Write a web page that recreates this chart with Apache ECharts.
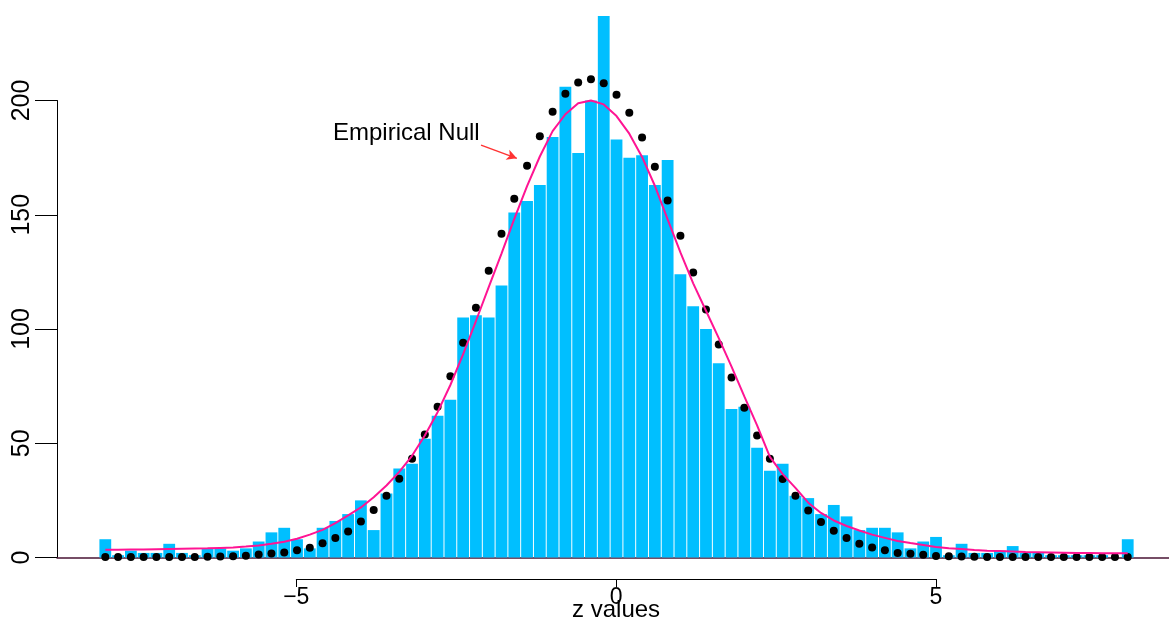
<!DOCTYPE html>
<html>
<head>
<meta charset="utf-8">
<title>z values histogram</title>
<script src="https://cdn.jsdelivr.net/npm/echarts@6/dist/echarts.min.js"></script>
<style>
  html, body { margin: 0; padding: 0; background: #fff; }
  #main { width: 1169px; height: 625px; }
</style>
</head>
<body>
<div id="main"></div>
<script>
// bin centres, -8.0 .. 8.0 by 0.2
var zCenters = [];
for (var k = -40; k <= 40; k++) {
    zCenters.push(Math.round(k * 2) / 10);
}

// histogram counts
var counts = [
    8, 1, 3, 2, 2, 6, 2, 1, 4, 4,
    3, 4, 7, 11, 13, 8, 4, 13, 16, 19,
    25, 12, 28, 39, 41, 52, 62, 69, 105, 106,
    105, 119, 151, 156, 163, 184, 206, 177, 200, 237,
    183, 175, 176, 163, 174, 124, 110, 100, 85, 65,
    66, 48, 38, 41, 27, 26, 19, 23, 18, 12,
    13, 13, 11, 4, 7, 9, 1, 6, 2, 2,
    3, 5, 2, 2, 1, 1, 1, 1, 1, 0,
    8
];

// black dots
var dots = [
    0.2, 0.2, 0.2, 0.2, 0.2, 0.2, 0.2, 0.2, 0.3, 0.4,
    0.5, 0.8, 1.3, 1.7, 2.2, 3.2, 4.3, 6.2, 8.5, 11.4,
    15.8, 20.8, 27, 34.5, 43.2, 53.8, 66, 79.3, 94, 109.3,
    125.5, 141.7, 157, 171.5, 184.4, 195.1, 203, 207.9, 209.3, 207.6,
    202.5, 194.6, 183.8, 171, 156.3, 140.8, 124.7, 108.5, 93.2, 78.8,
    65.5, 53.4, 43.2, 34.4, 27, 20.6, 15.5, 11.7, 8.5, 6,
    4.4, 3.2, 2, 1.6, 1.2, 0.7, 0.5, 0.4, 0.3, 0.2,
    0.2, 0.2, 0.2, 0.2, 0.2, 0.2, 0.2, 0.2, 0.2, 0.2,
    0.2
];

// pink curve (empirical null)
var nullCurve = [
    3.4, 3.4, 3.5, 3.5, 3.6, 3.7, 3.8, 3.9, 4.0, 4.2,
    4.4, 4.8, 5.3, 6.0, 6.9, 8.2, 10, 12.1, 15, 18.4,
    21.9, 26.4, 31.5, 37.5, 44.5, 53.4, 63.6, 75.5, 89, 103.5,
    118.3, 133, 148.2, 162.5, 175.5, 186.6, 194, 198.8, 200, 198.3,
    193.2, 185.5, 175.3, 162.7, 148, 133.5, 120, 108, 96, 83.5,
    70.5, 57.8, 44, 36.5, 30.5, 24, 19.5, 16.2, 13.8, 11.8,
    10, 8.6, 7.2, 6.3, 5.5, 4.6, 4.1, 3.7, 3.3, 3.0,
    2.8, 2.6, 2.4, 2.3, 2.2, 2.1, 2.0, 2.0, 1.9, 1.9,
    1.9
];

var yTicks = [0, 50, 100, 150, 200];
var xTicks = [-5, 0, 5];

function pairs(vals){
    var out = [];
    for (var i = 0; i < vals.length; i++) {
        out.push([zCenters[i], vals[i]]);
    }
    return out;
}

var font = '"Liberation Sans", Arial, Helvetica, sans-serif';
var chart = echarts.init(document.getElementById('main'));

var option = {
    animation: false,
    backgroundColor: '#fff',
    textStyle: { fontFamily: font },
    grid: [
        // data area
        { left: 57, right: 0, top: 0, height: 557.5 },
        // y axis
        { left: 57, width: 100, top: 100.5, height: 457 },
        // x axis
        { left: 296.3, width: 639.5, top: 578, height: 1 }
    ],
    xAxis: [
        {
            gridIndex: 0, type: 'value', min: -8.756, max: 8.646,
            axisLine: { show: true, onZero: false, lineStyle: { color: '#4a1535', width: 1.5 } },
            axisTick: { show: false }, axisLabel: { show: false }, splitLine: { show: false }
        },
        {
            gridIndex: 1, type: 'value', show: false
        },
        {
            gridIndex: 2, type: 'value', min: xTicks[0], max: xTicks[xTicks.length - 1], interval: 5,
            axisLine: { show: true, lineStyle: { color: '#000', width: 1 } },
            axisTick: { show: true, length: 8, lineStyle: { color: '#000' } },
            axisLabel: {
                fontSize: 23, color: '#000', margin: 7, fontFamily: font,
                formatter: function (v) { return String(v).replace('-', '\u2212'); }
            },
            splitLine: { show: false },
            name: 'z values', nameLocation: 'middle', nameGap: 19, nameMoveOverlap: false,
            nameTextStyle: { fontSize: 24, color: '#000', fontFamily: font }
        }
    ],
    yAxis: [
        {
            gridIndex: 0, type: 'value', min: 0, max: 244, show: false
        },
        {
            gridIndex: 1, type: 'value', min: yTicks[0], max: yTicks[yTicks.length - 1], interval: 50,
            axisLine: { show: true, lineStyle: { color: '#000', width: 1 } },
            axisTick: { show: true, length: 22, lineStyle: { color: '#000' } },
            axisLabel: { rotate: 90, fontSize: 25, color: '#000', margin: 22, fontFamily: font },
            splitLine: { show: false }
        },
        {
            gridIndex: 2, type: 'value', show: false
        }
    ],
    series: [
        {
            name: 'counts', type: 'bar', xAxisIndex: 0, yAxisIndex: 0,
            barWidth: 11.8, barGap: '0%',
            itemStyle: { color: '#00BFFF' },
            data: pairs(counts)
        },
        {
            name: 'Empirical Null', type: 'line', xAxisIndex: 0, yAxisIndex: 0,
            symbol: 'none', smooth: false,
            lineStyle: { color: '#FF1493', width: 2 },
            data: pairs(nullCurve),
            markLine: {
                silent: true, symbol: ['none', 'arrow'], symbolSize: [8, 10],
                label: { show: false },
                lineStyle: { color: '#FF3333', width: 1.5, type: 'solid' },
                data: [[ { coord: [-2.12, 180.5] }, { coord: [-1.56, 174.7] } ]]
            }
        },
        {
            name: 'dots', type: 'scatter', xAxisIndex: 0, yAxisIndex: 0,
            symbolSize: 8,
            itemStyle: { color: '#000', opacity: 1 },
            data: pairs(dots)
        }
    ],
    graphic: [
        {
            type: 'text', left: 333, top: 121,
            style: { text: 'Empirical Null', fontSize: 24, fontFamily: font, fill: '#000' }
        }
    ]
};

chart.setOption(option);
</script>
</body>
</html>
